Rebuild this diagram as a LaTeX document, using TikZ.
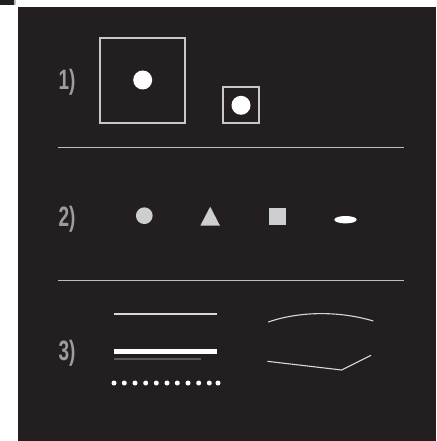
\documentclass[tikz,border=0pt]{standalone}
\usepackage{fontspec}
\usepackage{graphicx}
\newfontfamily\labfont{Liberation Sans}
\newcommand{\labtxt}[1]{\scalebox{0.68}[1]{#1}}
\definecolor{bgc}{HTML}{231F20}
\definecolor{framec}{HTML}{C8C8C8}
\definecolor{divc}{HTML}{BEBEBE}
\definecolor{labc}{HTML}{9D9D9D}
\definecolor{shapec}{HTML}{CDCECF}
\definecolor{thinc}{HTML}{D8D8D8}
\definecolor{greyline}{HTML}{5A5A5A}
\tikzset{
  lab/.style={font=\labfont\bfseries\fontsize{28}{28}\selectfont, text=labc, anchor=base, inner sep=0pt},
  frame/.style={draw=framec, line width=2pt, fill=none, inner sep=0pt, minimum size=#1},
  whitedot/.style={fill=white, circle, inner sep=0pt, minimum size=#1},
  divider/.style={draw=divc, line width=1pt},
  greyshape/.style={fill=shapec, draw=none, inner sep=0pt},
}
\begin{document}
\begin{tikzpicture}[x=1pt,y=-1pt]
\useasboundingbox (0,0) rectangle (436,441);
% background
\fill[white] (0,0) rectangle (436,441);
\fill[bgc] (18,7) rectangle (436,441);
\fill[bgc] (0,0) rectangle (14,5);
\fill[divc] (14,0) rectangle (16,5);
% labels
\node[lab] (l1) at (67,90) {\labtxt{1)}};
\node[lab] (l2) at (67,226) {\labtxt{2)}};
\node[lab] (l3) at (67,360) {\labtxt{3)}};
% section 1
\node[frame=85pt] (bigsq) at (142.5,80.5) {};
\node[whitedot=19pt] (bigdot) at (142.7,80) {};
\node[frame=36pt] (smsq) at (241,105) {};
\node[whitedot=19pt] (smdot) at (241,105.3) {};
\coordinate (d1a) at (58,147.7);
\coordinate (d1b) at (404,147.7);
\draw[divider] (d1a) -- (d1b);
% section 2
\node[greyshape, circle, minimum size=16.7pt] (circ) at (144.3,215.7) {};
\fill[shapec] (200.3,225.7) -- (210.2,206.7) -- (220,225.7) -- cycle;
\node[greyshape, minimum size=16.7pt] (sq) at (277.7,216.5) {};
\fill[white] (345.5,219.7) ellipse [x radius=11.2, y radius=3.7];
\coordinate (d2a) at (58,280.3);
\coordinate (d2b) at (404,280.3);
\draw[divider] (d2a) -- (d2b);
% section 3
\coordinate (t1a) at (114,314);
\coordinate (t1b) at (217,314);
\draw[thinc, line width=1.1pt] (t1a) -- (t1b);
\coordinate (t2a) at (114,351.2);
\coordinate (t2b) at (217,351.2);
\draw[white, line width=5pt] (t2a) -- (t2b);
\coordinate (t3a) at (114,359);
\coordinate (t3b) at (201.3,359);
\draw[greyline, line width=1.4pt] (t3a) -- (t3b);
\foreach \x in {114,124.3,135,145.7,156.3,167,177.3,188,198.7,209.3,218}
  \fill[white] (\x,383) circle (2.5);
\coordinate (c1a) at (268.3,322);
\coordinate (c1b) at (373.3,321);
\draw[thinc, line width=1.1pt] (c1a) .. controls (300,311) and (340,311) .. (c1b);
\coordinate (p1) at (267.3,361.3);
\coordinate (p2) at (341.7,370);
\coordinate (p3) at (371,355.3);
\draw[thinc, line width=1.1pt] (p1) -- (p2) -- (p3);
\end{tikzpicture}
\end{document}
